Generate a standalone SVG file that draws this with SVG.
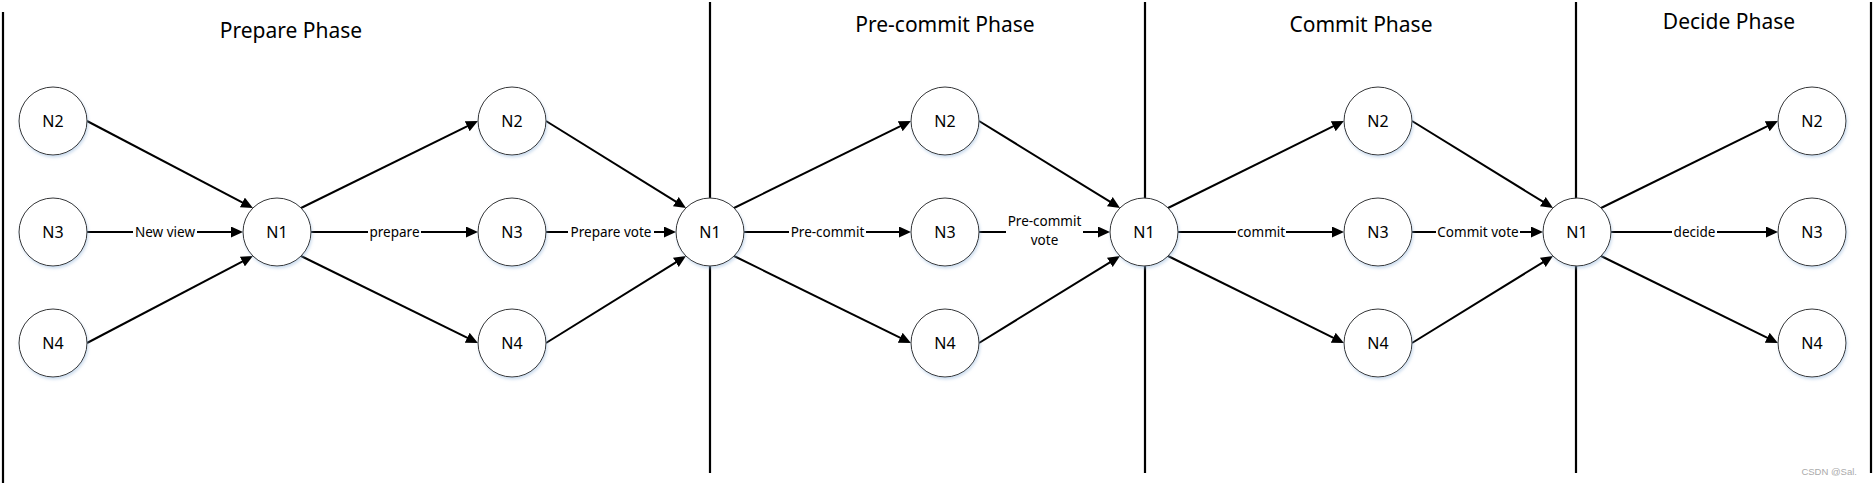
<svg xmlns="http://www.w3.org/2000/svg" width="1873" height="485" viewBox="0 0 1873 485">
<style>
.bg{fill:#fff}
.div{stroke:#000;stroke-width:2.2;fill:none}
.title{font-family:"Noto Sans","Open Sans",sans-serif;font-size:21px;fill:#000;text-anchor:middle}
.node circle{fill:#fff;stroke:#333;stroke-width:1;filter:url(#sh)}
.node text{font-family:"Noto Sans","Open Sans",sans-serif;font-size:16px;fill:#000;text-anchor:middle}
.edge{stroke:#000;stroke-width:2;fill:none;marker-end:url(#arr)}
.lbl rect{fill:#fff}
.lbl text{font-family:"Noto Sans","Open Sans",sans-serif;font-size:13.5px;fill:#000;text-anchor:middle}
.wm{font-family:"Liberation Sans",Arial,sans-serif;font-size:9.5px;fill:#aaa;text-anchor:end}
</style>
<defs>
<marker id="arr" markerUnits="userSpaceOnUse" markerWidth="12" markerHeight="11" refX="2" refY="5.5" orient="auto">
<path d="M0,0 L12,5.5 L0,11 z" fill="#000"/>
</marker>
<filter id="sh" x="-20%" y="-20%" width="150%" height="150%">
<feDropShadow dx="1" dy="2" stdDeviation="1.5" flood-color="#8fb3d9" flood-opacity="0.45"/>
</filter>
</defs>
<rect class="bg" x="0" y="0" width="1873" height="485"/>
<g id="dividers">
<line class="div" x1="3" y1="12" x2="3" y2="483"/>
<line class="div" x1="710" y1="2" x2="710" y2="473"/>
<line class="div" x1="1145" y1="2" x2="1145" y2="473"/>
<line class="div" x1="1576" y1="2" x2="1576" y2="473"/>
<line class="div" x1="1871" y1="2" x2="1871" y2="473"/>
</g>
<g id="titles">
<text class="title" x="291" y="38">Prepare Phase</text>
<text class="title" x="945" y="32">Pre-commit Phase</text>
<text class="title" x="1361" y="32">Commit Phase</text>
<text class="title" x="1729" y="29">Decide Phase</text>
</g>
<g id="connectors">
<line class="edge" x1="87" y1="121" x2="244.1" y2="203.4"/>
<line class="edge" x1="87" y1="232" x2="233" y2="232"/>
<line class="edge" x1="87" y1="343" x2="244.1" y2="260.6"/>
<line class="edge" x1="301" y1="208" x2="469" y2="125.4"/>
<line class="edge" x1="311" y1="232" x2="468" y2="232"/>
<line class="edge" x1="301" y1="256" x2="469" y2="338.6"/>
<line class="edge" x1="546" y1="121" x2="677.5" y2="202.7"/>
<line class="edge" x1="546" y1="232" x2="666" y2="232"/>
<line class="edge" x1="546" y1="343" x2="677.5" y2="261.3"/>
<line class="edge" x1="734" y1="208" x2="902" y2="125.4"/>
<line class="edge" x1="744" y1="232" x2="901" y2="232"/>
<line class="edge" x1="734" y1="256" x2="902" y2="338.6"/>
<line class="edge" x1="979" y1="121" x2="1111.5" y2="202.7"/>
<line class="edge" x1="979" y1="232" x2="1100" y2="232"/>
<line class="edge" x1="979" y1="343" x2="1111.5" y2="261.3"/>
<line class="edge" x1="1168" y1="208" x2="1335" y2="125.4"/>
<line class="edge" x1="1178" y1="232" x2="1334" y2="232"/>
<line class="edge" x1="1168" y1="256" x2="1335" y2="338.6"/>
<line class="edge" x1="1412" y1="121" x2="1544.5" y2="202.7"/>
<line class="edge" x1="1412" y1="232" x2="1533" y2="232"/>
<line class="edge" x1="1412" y1="343" x2="1544.5" y2="261.3"/>
<line class="edge" x1="1601" y1="208" x2="1769" y2="125.4"/>
<line class="edge" x1="1611" y1="232" x2="1768" y2="232"/>
<line class="edge" x1="1601" y1="256" x2="1769" y2="338.6"/>
<g class="lbl">
<rect x="133" y="224" width="64" height="16"/><text x="165" y="237">New view</text>
<rect x="368" y="224" width="53" height="16"/><text x="394.5" y="237">prepare</text>
<rect x="568" y="224" width="86" height="16"/><text x="611" y="237">Prepare vote</text>
<rect x="789" y="224" width="77" height="16"/><text x="827.5" y="237">Pre-commit</text>
<rect x="1006" y="213" width="77" height="38"/><text x="1044.5" y="226">Pre-commit</text><text x="1044.5" y="245">vote</text>
<rect x="1236" y="224" width="50" height="16"/><text x="1261" y="237">commit</text>
<rect x="1436" y="224" width="84" height="16"/><text x="1478" y="237">Commit vote</text>
<rect x="1672" y="224" width="45" height="16"/><text x="1694.5" y="237">decide</text>
</g>
</g>
<g id="n2_a" class="node"><circle cx="53" cy="121" r="34"/><text x="53" y="127">N2</text></g>
<g id="n3_a" class="node"><circle cx="53" cy="232" r="34"/><text x="53" y="238">N3</text></g>
<g id="n4_a" class="node"><circle cx="53" cy="343" r="34"/><text x="53" y="349">N4</text></g>
<g id="n1_a" class="node"><circle cx="277" cy="232" r="34"/><text x="277" y="238">N1</text></g>
<g id="n2_b" class="node"><circle cx="512" cy="121" r="34"/><text x="512" y="127">N2</text></g>
<g id="n3_b" class="node"><circle cx="512" cy="232" r="34"/><text x="512" y="238">N3</text></g>
<g id="n4_b" class="node"><circle cx="512" cy="343" r="34"/><text x="512" y="349">N4</text></g>
<g id="n1_b" class="node"><circle cx="710" cy="232" r="34"/><text x="710" y="238">N1</text></g>
<g id="n2_c" class="node"><circle cx="945" cy="121" r="34"/><text x="945" y="127">N2</text></g>
<g id="n3_c" class="node"><circle cx="945" cy="232" r="34"/><text x="945" y="238">N3</text></g>
<g id="n4_c" class="node"><circle cx="945" cy="343" r="34"/><text x="945" y="349">N4</text></g>
<g id="n1_c" class="node"><circle cx="1144" cy="232" r="34"/><text x="1144" y="238">N1</text></g>
<g id="n2_d" class="node"><circle cx="1378" cy="121" r="34"/><text x="1378" y="127">N2</text></g>
<g id="n3_d" class="node"><circle cx="1378" cy="232" r="34"/><text x="1378" y="238">N3</text></g>
<g id="n4_d" class="node"><circle cx="1378" cy="343" r="34"/><text x="1378" y="349">N4</text></g>
<g id="n1_d" class="node"><circle cx="1577" cy="232" r="34"/><text x="1577" y="238">N1</text></g>
<g id="n2_e" class="node"><circle cx="1812" cy="121" r="34"/><text x="1812" y="127">N2</text></g>
<g id="n3_e" class="node"><circle cx="1812" cy="232" r="34"/><text x="1812" y="238">N3</text></g>
<g id="n4_e" class="node"><circle cx="1812" cy="343" r="34"/><text x="1812" y="349">N4</text></g>
<text class="wm" x="1857" y="475">CSDN @Sal.</text>
</svg>
